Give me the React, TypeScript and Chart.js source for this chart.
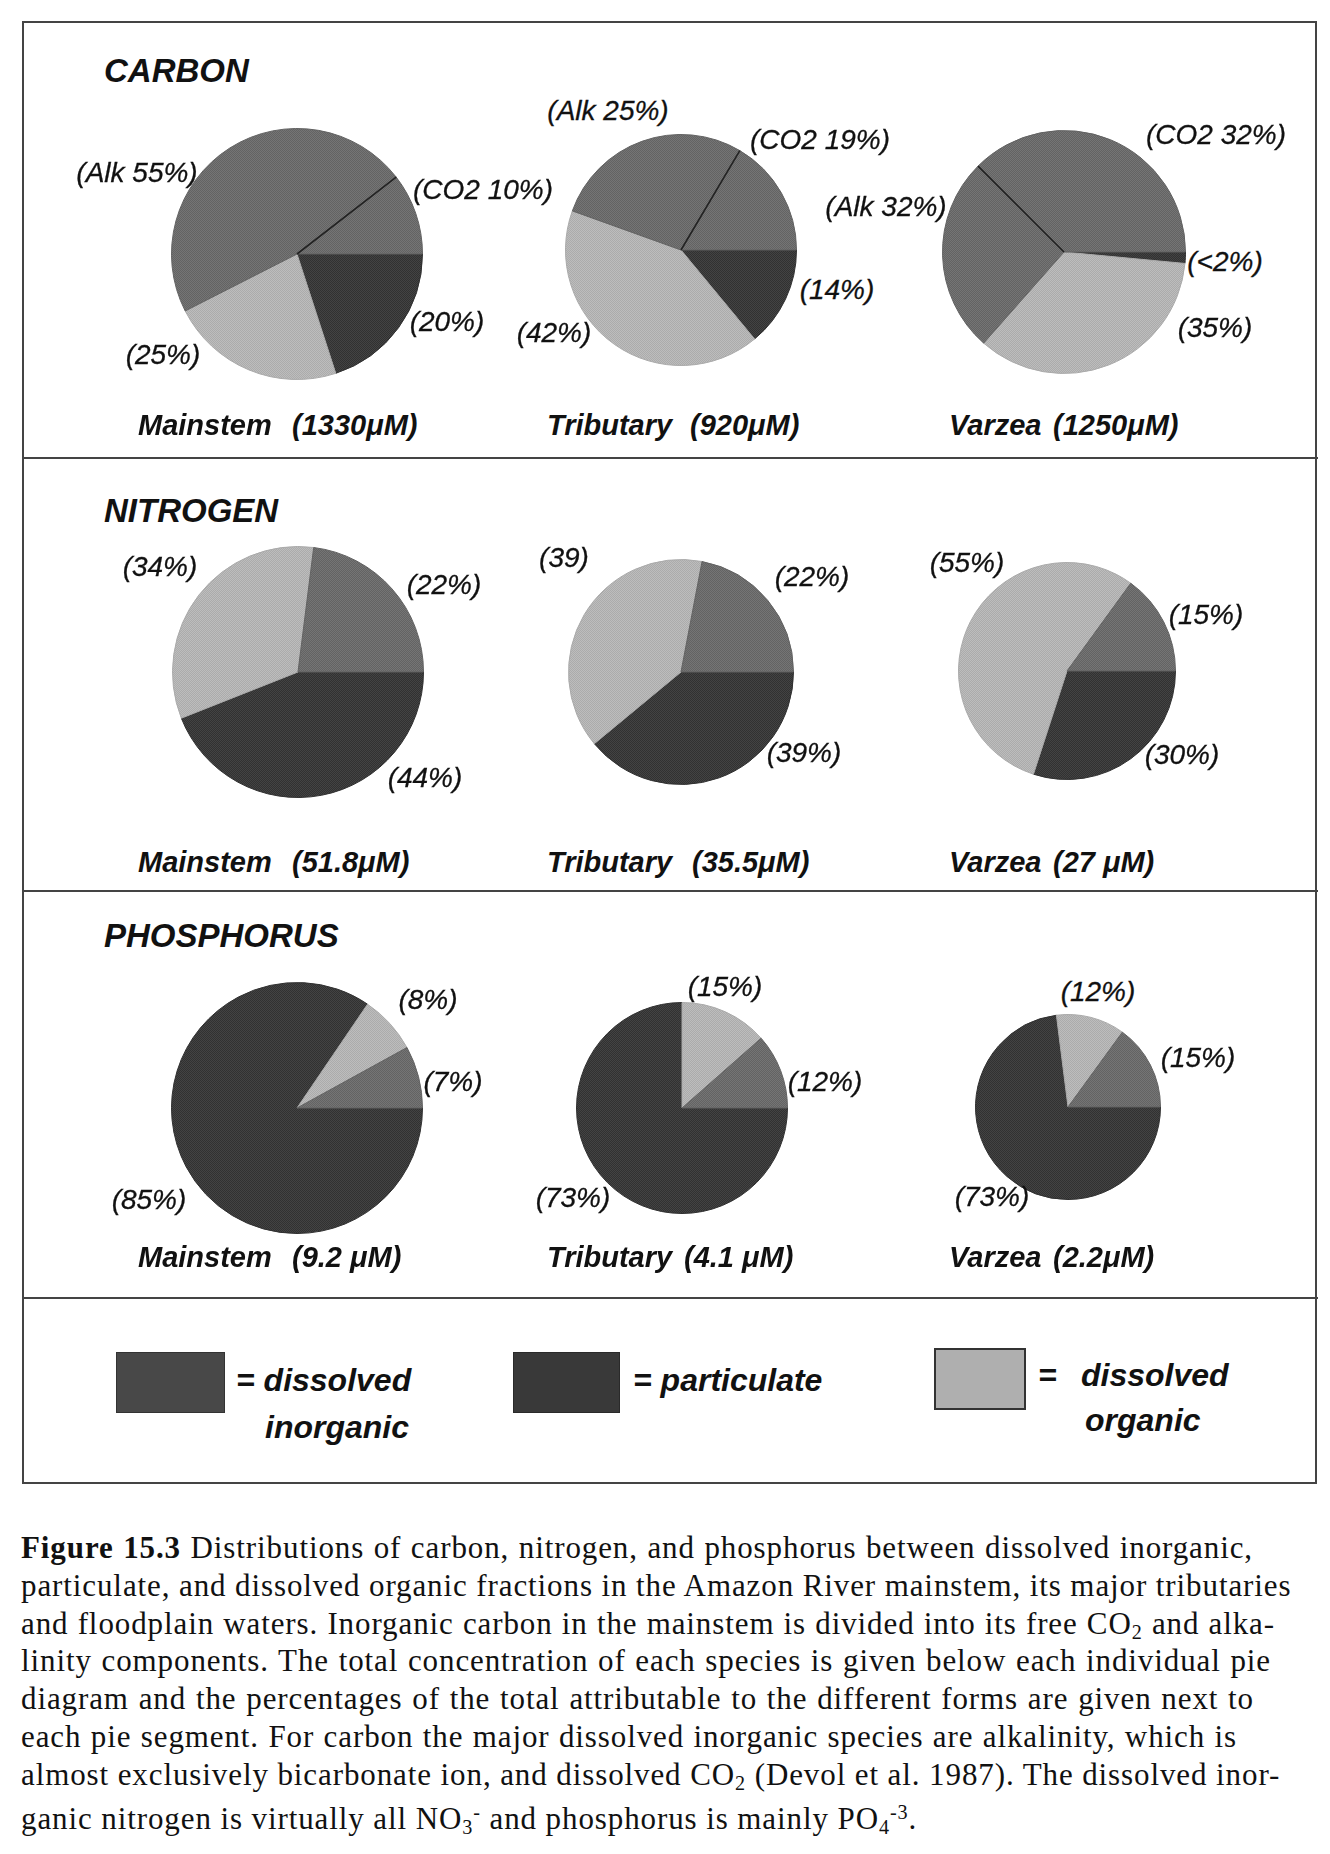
import React, { useEffect, useRef } from 'react';
import { Chart, ArcElement, PieController } from 'chart.js';

Chart.register(ArcElement, PieController);

// ---------- DATA ----------
const sections = ['CARBON', 'NITROGEN', 'PHOSPHORUS'];
const sites = ['Mainstem', 'Tributary', 'Varzea'];

// carbon segments (clockwise from 3 o'clock): particulate, dissolved organic, alkalinity, CO2
const carbonSegments = ['particulate', 'dissolved organic', 'Alk', 'CO2'];
const carbonMainstem = [20, 22.5, 47, 10.5];
const carbonTributary = [14, 41.5, 28, 16.5];
const carbonVarzea = [1.5, 35, 26, 37.5];
const carbonConc = ['(1330μM)', '(920μM)', '(1250μM)'];
const carbonLabels = [
  ['(20%)', '(25%)', '(Alk 55%)', '(CO2 10%)'],
  ['(14%)', '(42%)', '(Alk 25%)', '(CO2 19%)'],
  ['(<2%)', '(35%)', '(Alk 32%)', '(CO2 32%)'],
];

// nitrogen / phosphorus segments: particulate, dissolved organic, dissolved inorganic
const npSegments = ['particulate', 'dissolved organic', 'dissolved inorganic'];
const nitrogenMainstem = [44, 33, 23];
const nitrogenTributary = [39, 39, 22];
const nitrogenVarzea = [30, 55, 15];
const nitrogenConc = ['(51.8μM)', '(35.5μM)', '(27 μM)'];
const nitrogenLabels = [
  ['(44%)', '(34%)', '(22%)'],
  ['(39%)', '(39)', '(22%)'],
  ['(30%)', '(55%)', '(15%)'],
];

const phosphorusMainstem = [84.5, 7.5, 8];
const phosphorusTributary = [75, 13.5, 11.5];
const phosphorusVarzea = [73, 12, 15];
const phosphorusConc = ['(9.2 μM)', '(4.1 μM)', '(2.2μM)'];
const phosphorusLabels = [
  ['(85%)', '(8%)', '(7%)'],
  ['(73%)', '(15%)', '(12%)'],
  ['(73%)', '(12%)', '(15%)'],
];

const legendItems = ['dissolved inorganic', 'particulate', 'dissolved organic'];

// ---------- STYLE / LAYOUT ----------
const C_INORG = [108, 108, 108];
const C_PART = [58, 58, 58];
const C_ORG = [180, 180, 180];

const SANS = '"Liberation Sans", Arial, Helvetica, sans-serif';
const SERIF = '"Liberation Serif", "Times New Roman", serif';

// pie geometry [cx, cy, r]
const pieGeom = [
  [[297, 254, 125], [681, 250, 115], [1064, 252, 121]],
  [[298, 672, 125], [681, 672, 112], [1067, 671, 108]],
  [[297, 1108, 125], [682, 1108, 105], [1068, 1107, 92]],
];

// label centres per pie, same order as label arrays
const labelPos = [
  [
    [[447, 322], [163, 355], [137, 173], [483, 190]],
    [[837, 290], [554, 333], [608, 111], [820, 140]],
    [[1225, 262], [1215, 328], [886, 207], [1216, 135]],
  ],
  [
    [[425, 778], [160, 567], [444, 585]],
    [[804, 753], [564, 558], [812, 577]],
    [[1182, 755], [967, 563], [1206, 615]],
  ],
  [
    [[149, 1200], [428, 1000], [453, 1082]],
    [[573, 1198], [725, 987], [825, 1082]],
    [[992, 1197], [1098, 992], [1198, 1058]],
  ],
];

const titleY = [70, 510, 935];
const subY = [425, 862, 1257];
const nameX = [138, 547, 949];
const concX = [
  [292, 690, 1053],
  [292, 692, 1053],
  [292, 684, 1053],
];

function makePattern(rgb: number[]): CanvasPattern | string {
  const c = document.createElement('canvas');
  c.width = 4;
  c.height = 4;
  const ctx = c.getContext('2d');
  if (!ctx) return `rgb(${rgb.join(',')})`;
  const img = ctx.createImageData(4, 4);
  for (let y = 0; y < 4; y++) {
    for (let x = 0; x < 4; x++) {
      const d = (x + y) % 2 === 0 ? 9 : -9;
      const k = (y * 4 + x) * 4;
      img.data[k] = rgb[0] + d;
      img.data[k + 1] = rgb[1] + d;
      img.data[k + 2] = rgb[2] + d;
      img.data[k + 3] = 255;
    }
  }
  ctx.putImageData(img, 0, 0);
  const p = ctx.createPattern(c, 'repeat');
  return p || `rgb(${rgb.join(',')})`;
}

const dividerPlugin = {
  id: 'divider',
  afterDatasetsDraw(chart: any, _args: any, opts: any) {
    const idx: number[] = (opts && opts.indices) || [];
    const meta = chart.getDatasetMeta(0);
    const ctx = chart.ctx;
    idx.forEach((i) => {
      const arc: any = meta.data[i];
      if (!arc) return;
      const { x, y, startAngle, outerRadius } = arc.getProps(['x', 'y', 'startAngle', 'outerRadius'], true);
      ctx.save();
      ctx.strokeStyle = '#222';
      ctx.lineWidth = 1.6;
      ctx.beginPath();
      ctx.moveTo(x, y);
      ctx.lineTo(x + Math.cos(startAngle) * outerRadius, y + Math.sin(startAngle) * outerRadius);
      ctx.stroke();
      ctx.restore();
    });
  },
};

interface PieProps {
  cx: number;
  cy: number;
  r: number;
  values: number[];
  segments: string[];
  colors: number[][];
  dividers: number[];
}

function Pie({ cx, cy, r, values, segments, colors, dividers }: PieProps) {
  const ref = useRef<HTMLCanvasElement>(null);
  useEffect(() => {
    if (!ref.current) return;
    const chart = new Chart(ref.current, {
      type: 'pie',
      data: {
        labels: segments,
        datasets: [
          {
            data: values,
            backgroundColor: colors.map((c) => makePattern(c)) as any,
            borderColor: colors.map((c) => `rgb(${c.map((v) => v - 10).join(',')})`),
            borderWidth: 1,
          },
        ],
      },
      options: {
        animation: false,
        responsive: false,
        maintainAspectRatio: false,
        rotation: 90,
        layout: { padding: 0 },
        events: [],
        plugins: {
          legend: { display: false },
          tooltip: { enabled: false },
          divider: { indices: dividers },
        } as any,
      },
      plugins: [dividerPlugin],
    });
    return () => chart.destroy();
  }, []);
  const size = 2 * r + 2;
  return (
    <canvas
      ref={ref}
      width={size}
      height={size}
      style={{ position: 'absolute', left: cx - r - 1, top: cy - r - 1, width: size, height: size }}
    />
  );
}

const labelStyle: React.CSSProperties = {
  position: 'absolute',
  fontFamily: SANS,
  fontStyle: 'italic',
  fontSize: 28,
  color: '#111',
  whiteSpace: 'nowrap',
  transform: 'translate(-50%, -50%)',
  lineHeight: 1,
  WebkitTextStroke: '0.3px #111',
};

const boldItalic: React.CSSProperties = {
  position: 'absolute',
  fontFamily: SANS,
  fontStyle: 'italic',
  fontWeight: 'bold',
  color: '#111',
  whiteSpace: 'nowrap',
  lineHeight: 1,
  transform: 'translateY(-50%)',
};

const captionLines = [
  'Distributions of carbon, nitrogen, and phosphorus between dissolved inorganic,',
  'particulate, and dissolved organic fractions in the Amazon River mainstem, its major tributaries',
  'and floodplain waters. Inorganic carbon in the mainstem is divided into its free CO|2| and alka-',
  'linity components. The total concentration of each species is given below each individual pie',
  'diagram and the percentages of the total attributable to the different forms are given next to',
  'each pie segment. For carbon the major dissolved inorganic species are alkalinity, which is',
  'almost exclusively bicarbonate ion, and dissolved CO|2| (Devol et al. 1987). The dissolved inor-',
  'ganic nitrogen is virtually all NO|3|^-^ and phosphorus is mainly PO|4|^-3^.',
];
const captionWidths = [1232, 1263, 1254, 1250, 1233, 1216, 1254, 0];

function renderRich(s: string) {
  const parts: React.ReactNode[] = [];
  const re = /\|([^|]+)\||\^([^^]+)\^/g;
  let last = 0;
  let m: RegExpExecArray | null;
  let k = 0;
  while ((m = re.exec(s))) {
    if (m.index > last) parts.push(s.slice(last, m.index));
    if (m[1] !== undefined) parts.push(<sub key={k++} style={{ fontSize: '65%', verticalAlign: '-0.25em' }}>{m[1]}</sub>);
    else parts.push(<sup key={k++} style={{ fontSize: '65%', verticalAlign: '0.5em' }}>{m[2]}</sup>);
    last = re.lastIndex;
  }
  if (last < s.length) parts.push(s.slice(last));
  return parts;
}

export default function App() {
  const allValues = [
    [carbonMainstem, carbonTributary, carbonVarzea],
    [nitrogenMainstem, nitrogenTributary, nitrogenVarzea],
    [phosphorusMainstem, phosphorusTributary, phosphorusVarzea],
  ];
  const allLabels = [carbonLabels, nitrogenLabels, phosphorusLabels];
  const allConc = [carbonConc, nitrogenConc, phosphorusConc];

  const pies: React.ReactNode[] = [];
  const texts: React.ReactNode[] = [];
  sections.forEach((sec, si) => {
    texts.push(
      <div key={`t${si}`} style={{ ...boldItalic, left: 104, top: titleY[si], fontSize: 33 }}>
        {sec}
      </div>
    );
    sites.forEach((site, pi) => {
      const [cx, cy, r] = pieGeom[si][pi];
      const isCarbon = si === 0;
      pies.push(
        <Pie
          key={`p${si}${pi}`}
          cx={cx}
          cy={cy}
          r={r}
          values={allValues[si][pi]}
          segments={isCarbon ? carbonSegments : npSegments}
          colors={isCarbon ? [C_PART, C_ORG, C_INORG, C_INORG] : [C_PART, C_ORG, C_INORG]}
          dividers={isCarbon ? [3] : []}
        />
      );
      allLabels[si][pi].forEach((lab, li) => {
        const [lx, ly] = labelPos[si][pi][li];
        texts.push(
          <div key={`l${si}${pi}${li}`} style={{ ...labelStyle, left: lx, top: ly }}>
            {lab}
          </div>
        );
      });
      texts.push(
        <div key={`n${si}${pi}`} style={{ ...boldItalic, left: nameX[pi], top: subY[si], fontSize: 29 }}>
          {site}
        </div>
      );
      texts.push(
        <div key={`c${si}${pi}`} style={{ ...boldItalic, left: concX[si][pi], top: subY[si], fontSize: 29 }}>
          {allConc[si][pi]}
        </div>
      );
    });
  });

  const line = (top: number) => (
    <div style={{ position: 'absolute', left: 23, top, width: 1295, height: 2, background: '#444' }} />
  );

  const legendText: React.CSSProperties = { ...boldItalic, fontSize: 32 };

  return (
    <div style={{ position: 'absolute', left: 0, top: 0, width: 1330, height: 1854, background: '#fff', overflow: 'hidden' }}>
      <div
        style={{
          position: 'absolute',
          left: 22,
          top: 21,
          width: 1295,
          height: 1463,
          border: '2px solid #444',
          boxSizing: 'border-box',
        }}
      />
      {line(457)}
      {line(890)}
      {line(1297)}
      {pies}
      {texts}

      {/* legend */}
      <div style={{ position: 'absolute', left: 116, top: 1352, width: 109, height: 61, background: '#484848', border: '1px solid #333', boxSizing: 'border-box' }} title={legendItems[0]} />
      <div style={{ ...legendText, left: 236, top: 1380 }}>= dissolved</div>
      <div style={{ ...legendText, left: 265, top: 1427 }}>inorganic</div>
      <div style={{ position: 'absolute', left: 513, top: 1352, width: 107, height: 61, background: '#393939', border: '1px solid #2a2a2a', boxSizing: 'border-box' }} title={legendItems[1]} />
      <div style={{ ...legendText, left: 633, top: 1380 }}>= particulate</div>
      <div style={{ position: 'absolute', left: 934, top: 1348, width: 92, height: 62, background: '#afafaf', border: '2px solid #333', boxSizing: 'border-box' }} title={legendItems[2]} />
      <div style={{ ...legendText, left: 1038, top: 1375 }}>=</div>
      <div style={{ ...legendText, left: 1081, top: 1375 }}>dissolved</div>
      <div style={{ ...legendText, left: 1085, top: 1420 }}>organic</div>

      {/* caption */}
      {captionLines.map((ln, i) => {
        const w = captionWidths[i];
        const st: React.CSSProperties = {
          position: 'absolute',
          left: 21,
          top: 1529 + i * 37.8,
          fontFamily: SERIF,
          fontSize: 31,
          letterSpacing: '0.9px',
          lineHeight: '37.8px',
          color: '#111',
          whiteSpace: 'nowrap',
        };
        if (w > 0) {
          st.width = w;
          st.textAlign = 'justify';
          (st as any).textAlignLast = 'justify';
        }
        return (
          <div key={`cap${i}`} style={st}>
            {i === 0 ? <b>Figure 15.3 </b> : null}
            {renderRich(ln)}
          </div>
        );
      })}
    </div>
  );
}
